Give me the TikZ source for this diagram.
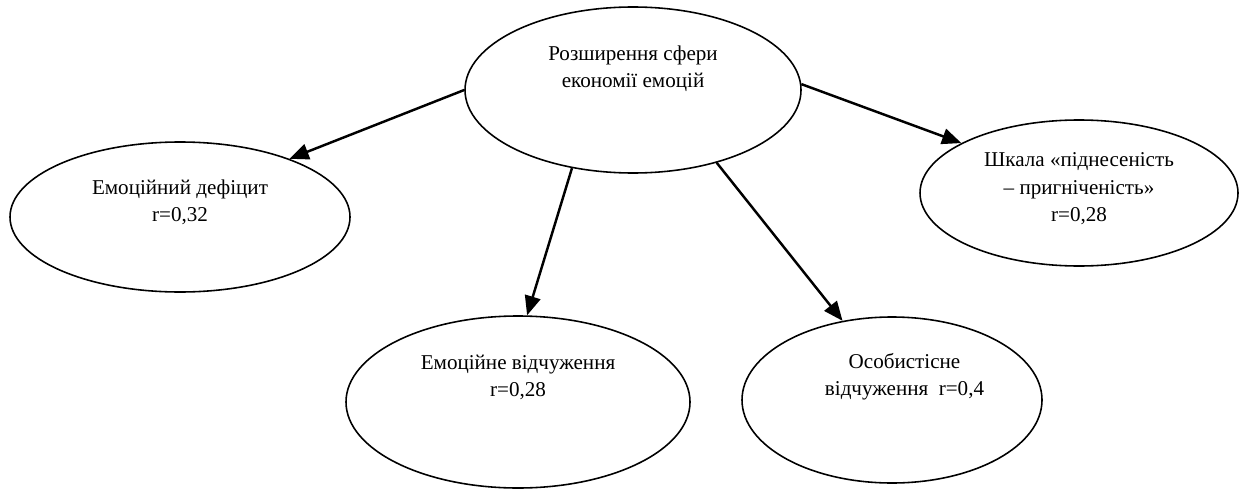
\documentclass[tikz,border=0pt]{standalone}
\usepackage{fontspec}
\setmainfont{Liberation Serif}
\usetikzlibrary{shapes.geometric,arrows.meta}

\begin{document}
\begin{tikzpicture}[oval/.style={draw, ellipse, line width=0.9pt, inner sep=0pt},
  link/.style={-{Triangle[length=11pt,width=9pt]}, line width=1.4pt},
  every node/.style={font=\fontsize{12}{15.4}\selectfont}]
\useasboundingbox (0,0) rectangle (24.78,-9.76);
% Ellipses
\node[oval, minimum width=6.72cm, minimum height=3.32cm] (econ) at (12.66,-1.80) {\parbox[c][1.76cm][t]{4cm}{\centering Розширення сфери\\економії емоцій}};
\node[oval, minimum width=6.80cm, minimum height=3.00cm] (deficit) at (3.60,-4.34) {\parbox[c][1.50cm][t]{4cm}{\centering Емоційний дефіцит\\r=0,32}};
\node[oval, minimum width=6.36cm, minimum height=2.92cm] (scale) at (21.58,-3.86) {\parbox[c][1.60cm][t]{4cm}{\centering Шкала «піднесеність\\– пригніченість»\\r=0,28}};
\node[oval, minimum width=6.88cm, minimum height=3.44cm] (emoalien) at (10.36,-8.04) {\parbox[c][1.88cm][t]{4cm}{\centering Емоційне відчуження\\r=0,28}};
\node[oval, minimum width=6.00cm, minimum height=3.32cm] (persalien) at (17.84,-8.00) {\parbox[c][1.88cm][t]{4cm}{\centering\hspace*{0.5cm}Особистісне\\\hspace*{0.5cm}відчуження~~r=0,4}};

% Arrows
\draw[link] (econ.180) -- (deficit.28);
\draw[link] (econ.232) -- (emoalien.84);
\draw[link] (econ.319) -- (persalien.122);
\draw[link] (econ.2) -- (scale.157);
\end{tikzpicture}
\end{document}
